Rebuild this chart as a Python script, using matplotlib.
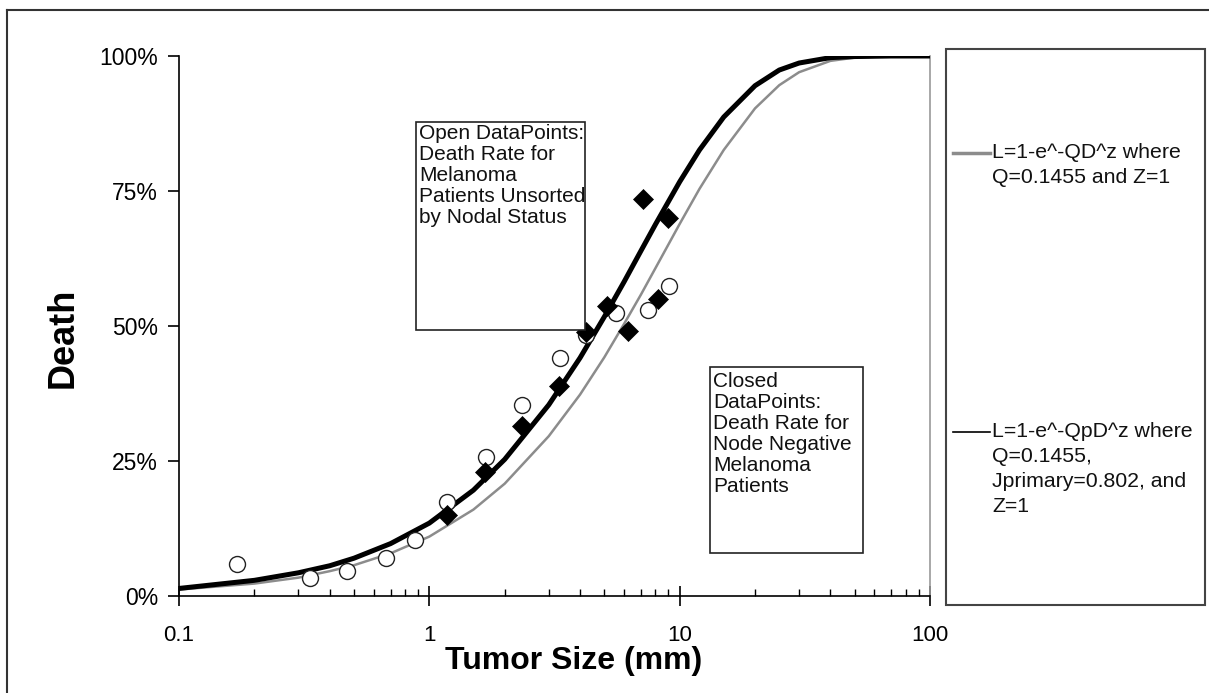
import matplotlib
matplotlib.use("Agg")
import matplotlib.pyplot as plt
from matplotlib.lines import Line2D
from matplotlib.patches import Rectangle
from matplotlib.ticker import FixedLocator, FuncFormatter, LogLocator, NullFormatter

plt.rcParams['font.family'] = ['Liberation Sans', 'DejaVu Sans']

# ---- data ----
curve_d = [0.1, 0.2, 0.3, 0.4, 0.5, 0.7, 1, 1.5, 2, 3, 4, 5, 6, 7, 8, 10,
           12, 15, 20, 25, 30, 40, 50, 70, 100]
curve_gray = [1.2, 2.3, 3.4, 4.6, 5.7, 7.9, 11.0, 16.0, 20.8, 29.6, 37.3, 44.2,
              50.4, 55.8, 60.7, 68.9, 75.4, 82.6, 90.3, 94.6, 97.0, 99.1, 99.7,
              100, 100]
curve_black = [1.4, 2.9, 4.3, 5.6, 7.0, 9.7, 13.5, 19.6, 25.3, 35.4, 44.1, 51.7,
               58.2, 63.9, 68.8, 76.7, 82.6, 88.7, 94.5, 97.4, 98.7, 99.7, 99.9,
               100, 100]

open_x = [0.17, 0.334, 0.469, 0.671, 0.877, 1.18, 1.69, 2.35, 3.33, 4.23, 5.57, 7.48, 9.08]
open_y = [5.9, 3.3, 4.6, 7.0, 10.4, 17.4, 25.7, 35.4, 44.1, 48.3, 52.4, 53.0, 57.4]

closed_x = [1.18, 1.67, 2.35, 3.30, 4.23, 5.13, 6.22, 7.14, 8.20, 8.99]
closed_y = [15.0, 23.0, 31.5, 38.9, 48.9, 53.7, 49.1, 73.5, 55.0, 70.0]

y_ticks = [0, 25, 50, 75, 100]
x_ticks = [0.1, 1, 10, 100]
x_tick_labels = ['0.1', '1', '10', '100']

legend_labels = ['L=1-e^-QD^z where\nQ=0.1455 and Z=1',
                 'L=1-e^-QpD^z where\nQ=0.1455,\nJprimary=0.802, and\nZ=1']
box1_text = 'Open DataPoints:\nDeath Rate for\nMelanoma\nPatients Unsorted\nby Nodal Status'
box2_text = 'Closed\nDataPoints:\nDeath Rate for\nNode Negative\nMelanoma\nPatients'

W, H = 1209, 693
fig = plt.figure(figsize=(W / 100, H / 100), dpi=100)
fig.patch.set_facecolor('white')

def fx(px):
    return px / W

def fy(py):
    return 1 - py / H

ax = fig.add_axes([fx(179), fy(596), fx(930) - fx(179), fy(56) - fy(596)])
ax.set_xscale('log')
ax.set_xlim(0.1, 100)
ax.set_ylim(0, 100)

ax.plot(curve_d, curve_gray, color='#8c8c8c', lw=1.8, zorder=2, solid_joinstyle='round')
ax.plot(curve_d, curve_black, color='black', lw=3.6, zorder=3, solid_joinstyle='round')
ax.plot(open_x, open_y, linestyle='none', marker='o', ms=11.5, mfc='white',
        mec='#222222', mew=1.0, zorder=4)
ax.plot(closed_x, closed_y, linestyle='none', marker='D', ms=9.8, mfc='black',
        mec='black', mew=0.5, zorder=5)

# spines
ax.spines['top'].set_visible(False)
ax.spines['right'].set_color('#9a9a9a')
ax.spines['right'].set_linewidth(1.2)
ax.spines['left'].set_linewidth(1.2)
ax.spines['bottom'].set_linewidth(1.2)

ax.yaxis.set_major_locator(FixedLocator(y_ticks))
ax.yaxis.set_major_formatter(FuncFormatter(lambda v, p: f'{int(v)}%'))
ax.xaxis.set_major_locator(FixedLocator(x_ticks))
ax.set_xticklabels(x_tick_labels)
ax.xaxis.set_minor_locator(LogLocator(base=10, subs=range(2, 10)))
ax.xaxis.set_minor_formatter(NullFormatter())

ax.tick_params(axis='y', which='major', direction='out', length=8, width=1.2,
               labelsize=16.5, pad=7, right=False)
ax.tick_params(axis='x', which='major', direction='inout', length=14, width=1.2,
               labelsize=16, pad=14, top=False)
ax.tick_params(axis='x', which='minor', direction='in', length=5, width=1.0, top=False)

ax.set_xlabel('Tumor Size (mm)', fontsize=23, fontweight='bold')
ax.xaxis.set_label_coords((574 - 179) / (930 - 179), -(661 - 596) / (596 - 56))
ax.xaxis.label.set_va('center')
ax.set_ylabel('Death', fontsize=26, fontweight='bold')
ax.yaxis.set_label_coords(-(179 - 63) / (930 - 179), (596 - 338) / (596 - 56))
ax.yaxis.label.set_va('center')

# text boxes
fig.add_artist(Rectangle((fx(416), fy(330)), fx(585) - fx(416), fy(122) - fy(330),
                         transform=fig.transFigure, fill=True, facecolor='white',
                         edgecolor='#222222', lw=1.2, zorder=6))
fig.text(fx(419), fy(124), box1_text, ha='left', va='top', fontsize=15,
         linespacing=1.13, color='#111111', zorder=7)
fig.add_artist(Rectangle((fx(710), fy(553)), fx(863) - fx(710), fy(367) - fy(553),
                         transform=fig.transFigure, fill=True, facecolor='white',
                         edgecolor='#222222', lw=1.2, zorder=6))
fig.text(fx(713), fy(372), box2_text, ha='left', va='top', fontsize=15,
         linespacing=1.13, color='#111111', zorder=7)

# legend box
fig.add_artist(Rectangle((fx(946), fy(605)), fx(1205) - fx(946), fy(49) - fy(605),
                         transform=fig.transFigure, fill=False,
                         edgecolor='#444444', lw=1.5))
fig.add_artist(Line2D([fx(953), fx(990)], [fy(153), fy(153)], transform=fig.transFigure,
                      color='#8c8c8c', lw=2.5))
fig.text(fx(992), fy(143), legend_labels[0], ha='left', va='top', fontsize=15.3,
         linespacing=1.4, color='#111111')
fig.add_artist(Line2D([fx(953), fx(990)], [fy(432), fy(432)], transform=fig.transFigure,
                      color='black', lw=1.2))
fig.text(fx(992), fy(422), legend_labels[1], ha='left', va='top', fontsize=15.3,
         linespacing=1.4, color='#111111')

# outer frame (top and left)
fig.add_artist(Line2D([fx(7), fx(1209)], [fy(10), fy(10)], transform=fig.transFigure,
                      color='#333333', lw=1.5))
fig.add_artist(Line2D([fx(7), fx(7)], [fy(10), fy(693)], transform=fig.transFigure,
                      color='#333333', lw=1.5))

fig.savefig('out.png', dpi=100, facecolor='white')
